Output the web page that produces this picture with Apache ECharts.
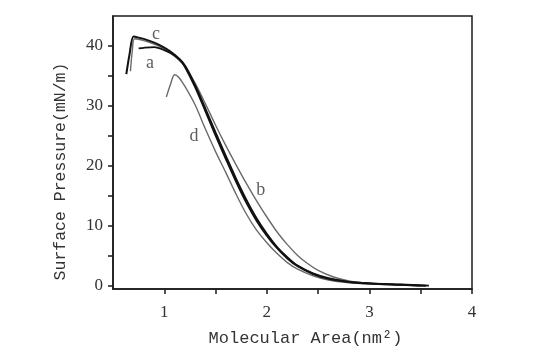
<!DOCTYPE html>
<html>
<head>
<meta charset="utf-8">
<script src="https://cdn.jsdelivr.net/npm/echarts@6/dist/echarts.min.js"></script>
<style>
  html, body { margin: 0; padding: 0; background: #fff; }
  #chart { width: 534px; height: 352px; }
</style>
</head>
<body>
<div id="chart"></div>
<script>
// isotherm curves, [molecular area (nm^2), surface pressure (mN/m)]
const curveA = [[0.75,39.6],[0.80,39.7],[0.90,39.8],[1.00,39.3],[1.10,38.4],[1.20,36.8],[1.30,33.5],[1.40,29.6],[1.50,25.6],[1.60,21.7],[1.70,17.9],[1.80,14.4],[1.90,11.3],[2.00,8.7],[2.10,6.5],[2.20,4.8],[2.30,3.4],[2.45,2.1],[2.60,1.3],[2.80,0.7],[3.00,0.45],[3.30,0.25],[3.58,0.05]]
const curveB = [[0.67,35.8],[0.69,39.5],[0.71,41.2],[0.80,40.9],[0.90,40.3],[1.00,39.5],[1.10,38.3],[1.20,36.6],[1.30,33.8],[1.40,30.4],[1.50,26.8],[1.60,23.4],[1.70,20.2],[1.80,17.1],[1.90,14.2],[2.00,11.5],[2.10,9.0],[2.20,6.9],[2.30,5.1],[2.40,3.7],[2.50,2.6],[2.65,1.5],[2.80,0.85],[3.00,0.45],[3.30,0.2],[3.50,0.05]]
const curveC = [[0.63,35.3],[0.66,38.5],[0.70,41.6],[0.75,41.4],[0.85,40.9],[0.95,40.2],[1.05,39.2],[1.15,37.8],[1.20,36.6],[1.30,33.2],[1.40,29.2],[1.50,25.1],[1.60,21.2],[1.70,17.4],[1.80,13.9],[1.90,10.9],[2.00,8.4],[2.10,6.3],[2.20,4.6],[2.30,3.3],[2.45,2.0],[2.60,1.2],[2.80,0.65],[3.00,0.4],[3.30,0.2],[3.55,0.05]]
const curveD = [[1.02,31.5],[1.06,33.6],[1.10,35.2],[1.14,34.8],[1.20,33.3],[1.30,30.2],[1.40,26.2],[1.50,22.4],[1.60,18.9],[1.70,15.3],[1.80,12.0],[1.90,9.3],[2.00,7.2],[2.10,5.4],[2.20,3.9],[2.30,2.8],[2.45,1.7],[2.60,1.0],[2.80,0.55],[3.00,0.35],[3.30,0.15],[3.50,0.05]]

// curve labels and where they sit
const labelNames = ['a','b','c','d']
const labelPos = [[0.86,37.1],[1.94,15.9],[0.92,41.9],[1.29,24.9]]

const xTicks = [1,1.5,2,2.5,3,3.5,4]
const xLabels = [1,2,3,4]
const yTicks = [0,5,10,15,20,25,30,35,40]
const yLabels = [0,10,20,30,40]

let chartInstance = echarts.init(document.getElementById('chart'))

function lineSeries(name, data, color, width){
    return {
        name: name,
        type: 'line',
        data: data,
        smooth: 0.3,
        showSymbol: false,
        lineStyle: { color: color, width: width },
        z: color === '#111' ? 3 : 2
    }
}

const option = {
    animation: false,
    backgroundColor: '#fff',
    grid: {
        left: 113, right: 62, top: 16, bottom: 62,
        show: true, borderColor: '#1a1a1a', borderWidth: 1.5
    },
    xAxis: {
        type: 'value',
        min: 0.5, max: 4, interval: 0.5,
        name: 'Molecular Area(nm²)',
        nameLocation: 'middle',
        nameGap: 41,
        nameTextStyle: { fontFamily: 'Liberation Mono', fontSize: 17, color: '#333', padding: [0,0,0,26] },
        axisLine: { onZero: false, lineStyle: { color: '#1a1a1a', width: 1.5 } },
        axisTick: { length: 5, inside: false, customValues: xTicks, lineStyle: { color: '#1a1a1a', width: 1.5 } },
        axisLabel: { customValues: xLabels, margin: 15, fontFamily: 'Liberation Serif', fontSize: 17, color: '#333' },
        splitLine: { show: false }
    },
    yAxis: {
        type: 'value',
        min: -0.5, max: 45,
        name: 'Surface Pressure(mN/m)',
        nameLocation: 'middle',
        nameGap: 44,
        nameRotate: 90,
        nameTextStyle: { fontFamily: 'Liberation Mono', fontSize: 16.5, color: '#333', padding: [0,38,0,0] },
        axisLine: { onZero: false, lineStyle: { color: '#1a1a1a', width: 1.5 } },
        axisTick: { length: 5, customValues: yTicks, lineStyle: { color: '#1a1a1a', width: 1.5 } },
        axisLabel: { customValues: yLabels, margin: 10, fontFamily: 'Liberation Serif', fontSize: 17, color: '#333' },
        splitLine: { show: false }
    },
    series: [
        lineSeries('b', curveB, '#6a6a6a', 1.4),
        lineSeries('d', curveD, '#6a6a6a', 1.4),
        lineSeries('a', curveA, '#111', 1.8),
        lineSeries('c', curveC, '#111', 2),
        {
            type: 'scatter',
            symbolSize: 0,
            data: labelPos.map((p, i) => ({ value: p, name: labelNames[i] })),
            label: {
                show: true,
                position: 'inside',
                formatter: '{b}',
                fontFamily: 'Liberation Serif',
                fontSize: 18,
                color: '#333'
            },
            z: 5
        }
    ]
}
chartInstance.setOption(option)
</script>
</body>
</html>
